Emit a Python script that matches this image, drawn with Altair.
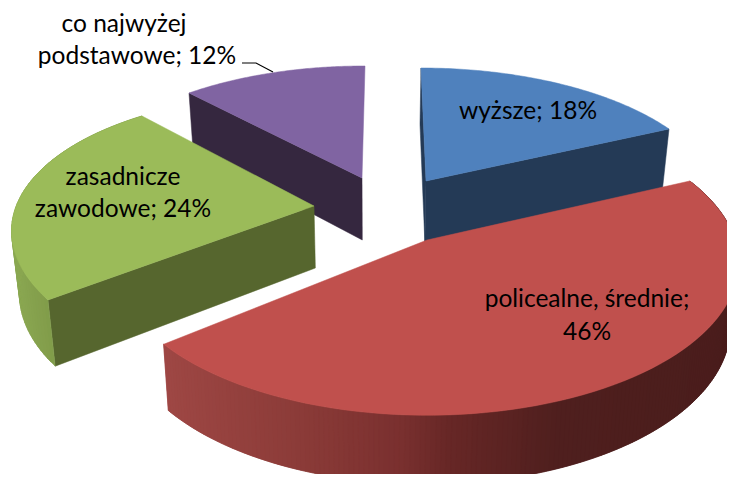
import math
import altair as alt

# values
categories = ["wyższe", "policealne, średnie", "zasadnicze zawodowe", "co najwyżej podstawowe"]
shares = [18, 46, 24, 12]
top_colors = ["#4f81bd", "#c0504d", "#9bbb59", "#8064a2"]
wall_colors = ["#243a56", "#c0504d", "#56662e", "#35273f"]
label_lines = [
    ["wyższe; 18%"],
    ["policealne, średnie;", "46%"],
    ["zasadnicze", "zawodowe; 24%"],
    ["co najwyżej", "podstawowe; 12%"],
]

# layout: apex and the two rim anchors of each exploded slice on the page
START_DEG = 0.3
PERSP = [0.15, 0.15, 0.22, 0.15]
FRAMES = [
    ((426, 181), (421, 68), (669, 129)),
    ((427, 240), None, None),
    ((314, 206), (48, 300), (142, 116)),
    ((362, 178), (189, 93), (365, 66)),
]
RED_AXES = (308, 149)
LABEL_POS = [[(528, 112)], [(587, 300), (587, 333)], [(123, 178), (123, 210)], [(124, 25), (137, 57)]]
RED_WALL = [(165, "#9e4744"), (300, "#8b3b38"), (400, "#7a302f"), (450, "#672726"), (560, "#4f1f1e"), (735, "#4a1d1c")]
GREEN_WALL = [(11, "#8ba852"), (55, "#7f9a48")]


def ramp(stops, x):
    if x <= stops[0][0]:
        return stops[0][1]
    for (x0, c0), (x1, c1) in zip(stops, stops[1:]):
        if x <= x1:
            f = (x - x0) / (x1 - x0)
            a = [int(c0[i:i + 2], 16) for i in (1, 3, 5)]
            b = [int(c1[i:i + 2], 16) for i in (1, 3, 5)]
            return "#%02x%02x%02x" % tuple(round(p + (q - p) * f) for p, q in zip(a, b))
    return stops[-1][1]


def canon(t, p):
    r = math.radians(t)
    w = 1 + p * math.cos(r)
    return math.sin(r) / w, -math.cos(r) / w


def slice_map(i, t0, t1):
    A, a, b = FRAMES[i]
    p = PERSP[i]
    if a is None:
        m00, m01, m10, m11 = RED_AXES[0], 0.0, 0.0, RED_AXES[1]
    else:
        ua, va = canon(t0, p)
        ub, vb = canon(t1, p)
        det = ua * vb - ub * va
        ax, ay = a[0] - A[0], a[1] - A[1]
        bx, by = b[0] - A[0], b[1] - A[1]
        m00 = (ax * vb - bx * va) / det
        m01 = (bx * ua - ax * ub) / det
        m10 = (ay * vb - by * va) / det
        m11 = (by * ua - ay * ub) / det

    def f(t):
        u, v = canon(t, p)
        return (A[0] + m00 * u + m01 * v, A[1] + m10 * u + m11 * v)

    return f


def drop(pt, t):
    x, y = pt
    return (x - (x - 375) * 0.022, y + 62 / (1 + 0.1 * math.cos(math.radians(t))))


def feature(points, color):
    pts = [[round(x, 2), round(y, 2)] for x, y in points]
    pts.append(pts[0])
    return {"type": "Feature", "properties": {"c": color},
            "geometry": {"type": "Polygon", "coordinates": [pts]}}


bounds = []
cum = START_DEG
for s in shares:
    bounds.append((cum, cum + s * 3.6))
    cum += s * 3.6

maps = [slice_map(i, *bounds[i]) for i in range(4)]


def top(i):
    t0, t1 = bounds[i]
    n = 80
    rim = [maps[i](t0 + (t1 - t0) * k / n) for k in range(n + 1)]
    return feature([FRAMES[i][0]] + rim, top_colors[i])


def inner_wall(i, t):
    A = FRAMES[i][0]
    p = maps[i](t)
    return feature([A, p, drop(p, t), drop(A, 90)], wall_colors[i])


def outer_wall(i, stops, n=200):
    t0, t1 = bounds[i]
    out = []
    for k in range(n):
        a = t0 + (t1 - t0) * k / n
        b = t0 + (t1 - t0) * min(k + 2, n) / n
        pa, pb = maps[i](a), maps[i](b)
        mid = maps[i](t0 + (t1 - t0) * (k + 0.5) / n)
        out.append(feature([pa, pb, drop(pb, b), drop(pa, a)], ramp(stops, mid[0])))
    return out


features = [
    inner_wall(3, bounds[3][0]),
    top(3),
    inner_wall(2, bounds[2][0]),
]
features += outer_wall(2, GREEN_WALL, 60)
features.append(top(2))
features += [inner_wall(0, bounds[0][0]), inner_wall(0, bounds[0][1]), top(0)]
features += outer_wall(1, RED_WALL)
features.append(top(1))

leader = {"type": "Feature", "properties": {},
          "geometry": {"type": "LineString", "coordinates": [[242, 63], [256, 63], [273, 72]]}}

labels = []
for lines, poss in zip(label_lines, LABEL_POS):
    for line, (x, y) in zip(lines, poss):
        labels.append({"t": line, "px": x, "py": y})

shapes = alt.Chart(alt.Data(values=features)).mark_geoshape(strokeWidth=0.5, opacity=1).encode(
    color=alt.Color("properties.c:N", scale=None, legend=None),
    stroke=alt.Stroke("properties.c:N", scale=None, legend=None),
)
line = alt.Chart(alt.Data(values=[leader])).mark_geoshape(filled=False, stroke="#000000", strokeWidth=1.2)
text = alt.Chart(alt.Data(values=labels)).mark_text(
    font="Lato", fontSize=24.5, color="#000000", align="center", baseline="middle"
).encode(longitude="px:Q", latitude="py:Q", text="t:N")

chart = (
    alt.layer(shapes, line, text)
    .project(type="identity", scale=1, translate=[-8, -8])
    .properties(width=719, height=466, padding=0, autosize=alt.AutoSizeParams(type="none"))
    .configure_view(stroke=None)
)
chart.save("out.html", embed_options={"renderer": "svg", "actions": False})
